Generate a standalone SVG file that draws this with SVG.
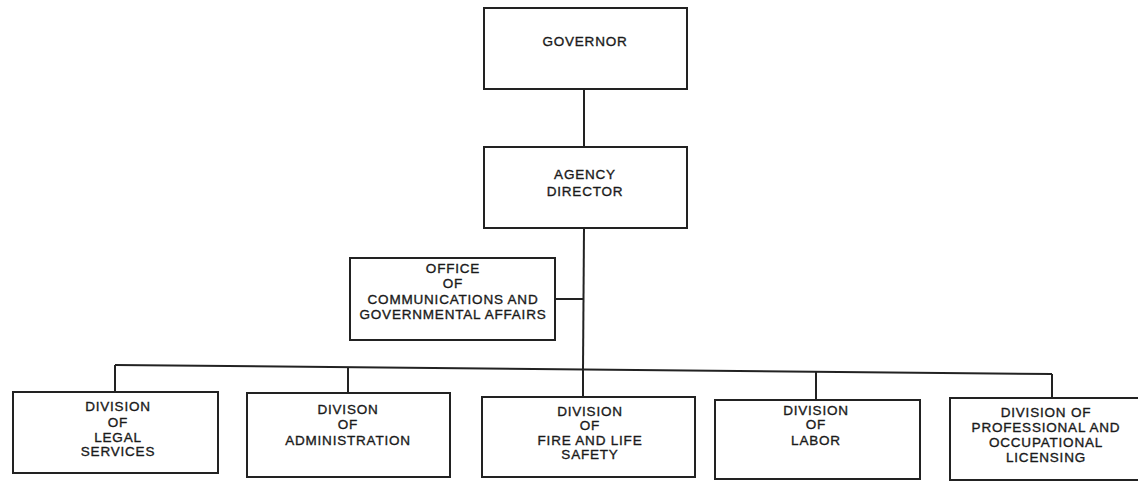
<svg xmlns="http://www.w3.org/2000/svg" width="1138" height="484" viewBox="0 0 1138 484">
  <style>
    .box { fill: #ffffff; stroke: #222222; stroke-width: 2; }
    .link { fill: none; stroke: #222222; stroke-width: 2; }
    .lbl { font-family: "Liberation Sans", Arial, sans-serif; font-size: 13.5px; letter-spacing: 0.8px; fill: #1a1a1a; stroke: #1a1a1a; stroke-width: 0.35; text-anchor: middle; }
  </style>
  <rect width="1138" height="484" fill="#ffffff"/>

  <!-- connectors -->
  <g id="connectors">
    <line class="link" x1="584" y1="89" x2="584" y2="147"/>
    <line class="link" x1="584" y1="228" x2="583" y2="369"/>
    <line class="link" x1="555" y1="299" x2="584" y2="299"/>
    <line class="link" x1="115" y1="365" x2="1052" y2="374"/>
    <line class="link" x1="115" y1="365" x2="115" y2="392"/>
    <line class="link" x1="348" y1="367" x2="348" y2="393"/>
    <line class="link" x1="583" y1="369" x2="583" y2="397"/>
    <line class="link" x1="816" y1="372" x2="816" y2="400"/>
    <line class="link" x1="1052" y1="374" x2="1052" y2="398"/>
  </g>

  <g id="governor">
    <rect class="box" x="484" y="8" width="203" height="81"/>
    <text class="lbl" x="585" y="46">GOVERNOR</text>
  </g>

  <g id="agency-director">
    <rect class="box" x="484" y="147" width="203" height="81"/>
    <text class="lbl" x="585" y="179">AGENCY</text>
    <text class="lbl" x="585" y="196">DIRECTOR</text>
  </g>

  <g id="office-communications">
    <rect class="box" x="350" y="258" width="205" height="82"/>
    <text class="lbl" x="453" y="273">OFFICE</text>
    <text class="lbl" x="453" y="288">OF</text>
    <text class="lbl" x="453" y="304">COMMUNICATIONS AND</text>
    <text class="lbl" x="453" y="319">GOVERNMENTAL AFFAIRS</text>
  </g>

  <g id="legal-services">
    <rect class="box" x="13" y="392" width="205" height="81"/>
    <text class="lbl" x="118" y="411">DIVISION</text>
    <text class="lbl" x="118" y="427">OF</text>
    <text class="lbl" x="118" y="442">LEGAL</text>
    <text class="lbl" x="118" y="456">SERVICES</text>
  </g>

  <g id="administration">
    <rect class="box" x="247" y="393" width="203" height="84"/>
    <text class="lbl" x="348" y="414">DIVISON</text>
    <text class="lbl" x="348" y="429">OF</text>
    <text class="lbl" x="348" y="445">ADMINISTRATION</text>
  </g>

  <g id="fire-life-safety">
    <rect class="box" x="482" y="397" width="213" height="80"/>
    <text class="lbl" x="590" y="416">DIVISION</text>
    <text class="lbl" x="590" y="430">OF</text>
    <text class="lbl" x="590" y="445">FIRE AND LIFE</text>
    <text class="lbl" x="590" y="459">SAFETY</text>
  </g>

  <g id="labor">
    <rect class="box" x="715" y="400" width="205" height="79"/>
    <text class="lbl" x="816" y="415">DIVISION</text>
    <text class="lbl" x="816" y="429">OF</text>
    <text class="lbl" x="816" y="445">LABOR</text>
  </g>

  <g id="professional-licensing">
    <rect class="box" x="950" y="398" width="192" height="82"/>
    <text class="lbl" x="1046" y="417">DIVISION OF</text>
    <text class="lbl" x="1046" y="432">PROFESSIONAL AND</text>
    <text class="lbl" x="1046" y="447">OCCUPATIONAL</text>
    <text class="lbl" x="1046" y="462">LICENSING</text>
  </g>
</svg>
